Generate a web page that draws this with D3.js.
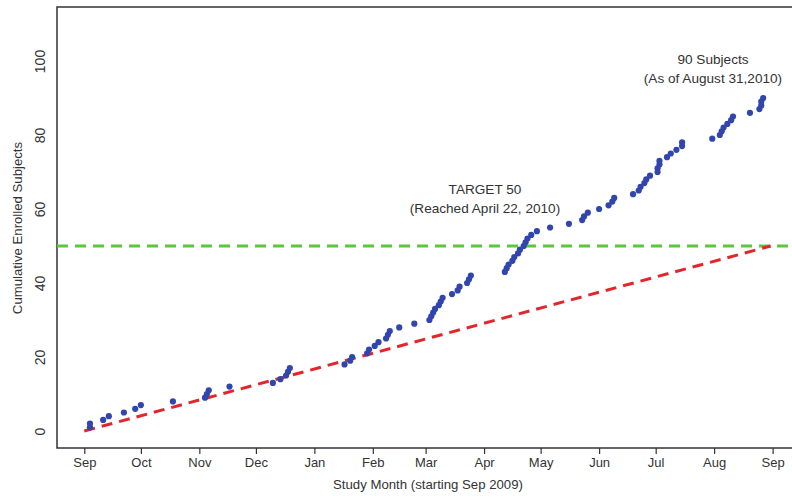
<!DOCTYPE html>
<html>
<head>
<meta charset="utf-8">
<script src="https://cdn.jsdelivr.net/npm/d3@7"></script>
<style>
  html, body { margin: 0; padding: 0; background: #fff; }
  svg { display: block; font-family: "Liberation Sans", Arial, sans-serif; }
</style>
</head>
<body>
<svg id="chart" width="792" height="500"></svg>
<script>
// Enrollment dates (one per subject) and the cumulative count reached on each
const enrollDates = [
  "2009-09-04","2009-09-04","2009-09-11","2009-09-14","2009-09-22","2009-09-28","2009-10-01","2009-10-18",
  "2009-11-04","2009-11-05","2009-11-06","2009-11-17","2009-12-10","2009-12-14","2009-12-17","2009-12-18",
  "2009-12-19","2010-01-17","2010-01-20","2010-01-21","2010-01-29","2010-01-30","2010-02-02","2010-02-04",
  "2010-02-08","2010-02-09","2010-02-10","2010-02-15","2010-02-23","2010-03-03","2010-03-04","2010-03-05",
  "2010-03-06","2010-03-08","2010-03-09","2010-03-10","2010-03-15","2010-03-18","2010-03-19","2010-03-23",
  "2010-03-24","2010-03-25","2010-04-12","2010-04-13","2010-04-14","2010-04-16","2010-04-17","2010-04-19",
  "2010-04-20","2010-04-22","2010-04-23","2010-04-24","2010-04-26","2010-04-29","2010-05-06","2010-05-16",
  "2010-05-23","2010-05-24","2010-05-26","2010-06-01","2010-06-06","2010-06-08","2010-06-09","2010-06-19",
  "2010-06-22","2010-06-23","2010-06-25","2010-06-26","2010-06-28","2010-07-02","2010-07-02","2010-07-03",
  "2010-07-03","2010-07-07","2010-07-09","2010-07-12","2010-07-15","2010-07-15","2010-07-31","2010-08-04",
  "2010-08-05","2010-08-06","2010-08-08","2010-08-10","2010-08-11","2010-08-20","2010-08-25","2010-08-26",
  "2010-08-26","2010-08-27"
];
const enrolledCount = [
   1, 2, 3, 4, 5, 6, 7, 8, 9,10,11,12,13,14,15,16,17,18,19,20,21,22,23,24,25,26,27,28,29,30,
  31,32,33,34,35,36,37,38,39,40,41,42,43,44,45,46,47,48,49,50,51,52,53,54,55,56,57,58,59,60,
  61,62,63,64,65,66,67,68,69,70,71,72,73,74,75,76,77,78,79,80,81,82,83,84,85,86,87,88,89,90
];
// Planned linear accrual toward the target
const planDates = ["2009-09-01", "2010-08-31"];
const planValues = [0, 50];
const targetValue = 50;
// Axis ticks
const monthTicks = ["2009-09-01","2009-10-01","2009-11-01","2009-12-01","2010-01-01","2010-02-01",
  "2010-03-01","2010-04-01","2010-05-01","2010-06-01","2010-07-01","2010-08-01","2010-09-01"];
const monthLabels = ["Sep","Oct","Nov","Dec","Jan","Feb","Mar","Apr","May","Jun","Jul","Aug","Sep"];
const yTicks = [0, 20, 40, 60, 80, 100];

const parse = d3.utcParse("%Y-%m-%d");
const svg = d3.select("#chart");
const textColor = "#333";

// Plot frame (the right side runs past the canvas edge)
const frame = { left: 57, right: 802, top: 7, bottom: 448 };

const x = d3.scaleUtc()
  .domain([parse("2009-09-01"), parse("2010-09-01")])
  .range([84.3, 772.6]);
const y = d3.scaleLinear()
  .domain([0, 100])
  .range([431, 61]);

// Frame
svg.append("rect")
  .attr("x", frame.left).attr("y", frame.top)
  .attr("width", frame.right - frame.left).attr("height", frame.bottom - frame.top)
  .attr("fill", "none").attr("stroke", "#333").attr("stroke-width", 1.5);

// Bottom axis: months
const xAxis = d3.axisBottom(x)
  .tickValues(monthTicks.map(parse))
  .tickFormat((d, i) => monthLabels[i])
  .tickSize(6).tickSizeOuter(0).tickPadding(4);
const gx = svg.append("g").attr("transform", `translate(0,${frame.bottom})`).call(xAxis);
gx.select(".domain").remove();
gx.selectAll(".tick line").attr("stroke", "#333").attr("stroke-width", 1.2);
gx.selectAll(".tick text").attr("font-size", 13).attr("fill", textColor)
  .attr("font-family", "Liberation Sans, Arial, sans-serif");

// Left axis: rotated labels
const yAxis = d3.axisLeft(y).tickValues(yTicks).tickSize(0).tickPadding(0);
const gy = svg.append("g").attr("transform", `translate(${frame.left},0)`).call(yAxis);
gy.select(".domain").remove();
gy.selectAll(".tick line").remove();
gy.selectAll(".tick text")
  .attr("x", null).attr("dy", null)
  .attr("transform", "translate(-12,0) rotate(-90)")
  .attr("text-anchor", "middle")
  .attr("dominant-baseline", "auto")
  .attr("font-size", 14).attr("fill", textColor)
  .attr("font-family", "Liberation Sans, Arial, sans-serif");

// Axis titles
svg.append("text")
  .attr("x", 428).attr("y", 489)
  .attr("text-anchor", "middle").attr("font-size", 13.2).attr("fill", textColor)
  .text("Study Month (starting Sep 2009)");
svg.append("text")
  .attr("transform", "translate(22,228) rotate(-90)")
  .attr("text-anchor", "middle").attr("font-size", 13.2).attr("fill", textColor)
  .text("Cumulative Enrolled Subjects");

// Clip marks to the frame
svg.append("clipPath").attr("id", "plotclip")
  .append("rect").attr("x", frame.left).attr("y", frame.top)
  .attr("width", frame.right - frame.left).attr("height", frame.bottom - frame.top);
const plot = svg.append("g").attr("clip-path", "url(#plotclip)");

// Target line
plot.append("line")
  .attr("x1", frame.left).attr("x2", frame.right)
  .attr("y1", y(targetValue)).attr("y2", y(targetValue))
  .attr("stroke", "#5cc63c").attr("stroke-width", 3)
  .attr("stroke-dasharray", "11,7");

// Planned accrual line
const planLine = d3.line()
  .x((d, i) => x(parse(planDates[i])))
  .y(d => y(d));
plot.append("path")
  .datum(planValues)
  .attr("d", planLine)
  .attr("fill", "none")
  .attr("stroke", "#e3262b").attr("stroke-width", 3)
  .attr("stroke-dasharray", "11,7");

// Enrollment points
plot.selectAll("circle.enroll")
  .data(enrolledCount)
  .join("circle")
  .attr("class", "enroll")
  .attr("cx", (d, i) => x(parse(enrollDates[i])))
  .attr("cy", d => y(d))
  .attr("r", 3.1)
  .attr("fill", "#3045ad");

// Annotations
const notes = [
  { cx: 485, cy: 194, lines: ["TARGET 50", "(Reached April 22, 2010)"] },
  { cx: 713, cy: 64, lines: ["90 Subjects", "(As of August 31,2010)"] }
];
notes.forEach(n => {
  n.lines.forEach((t, j) => {
    svg.append("text")
      .attr("x", n.cx).attr("y", n.cy + j * 19)
      .attr("text-anchor", "middle").attr("font-size", 13.6).attr("fill", textColor)
      .text(t);
  });
});
</script>
</body>
</html>
